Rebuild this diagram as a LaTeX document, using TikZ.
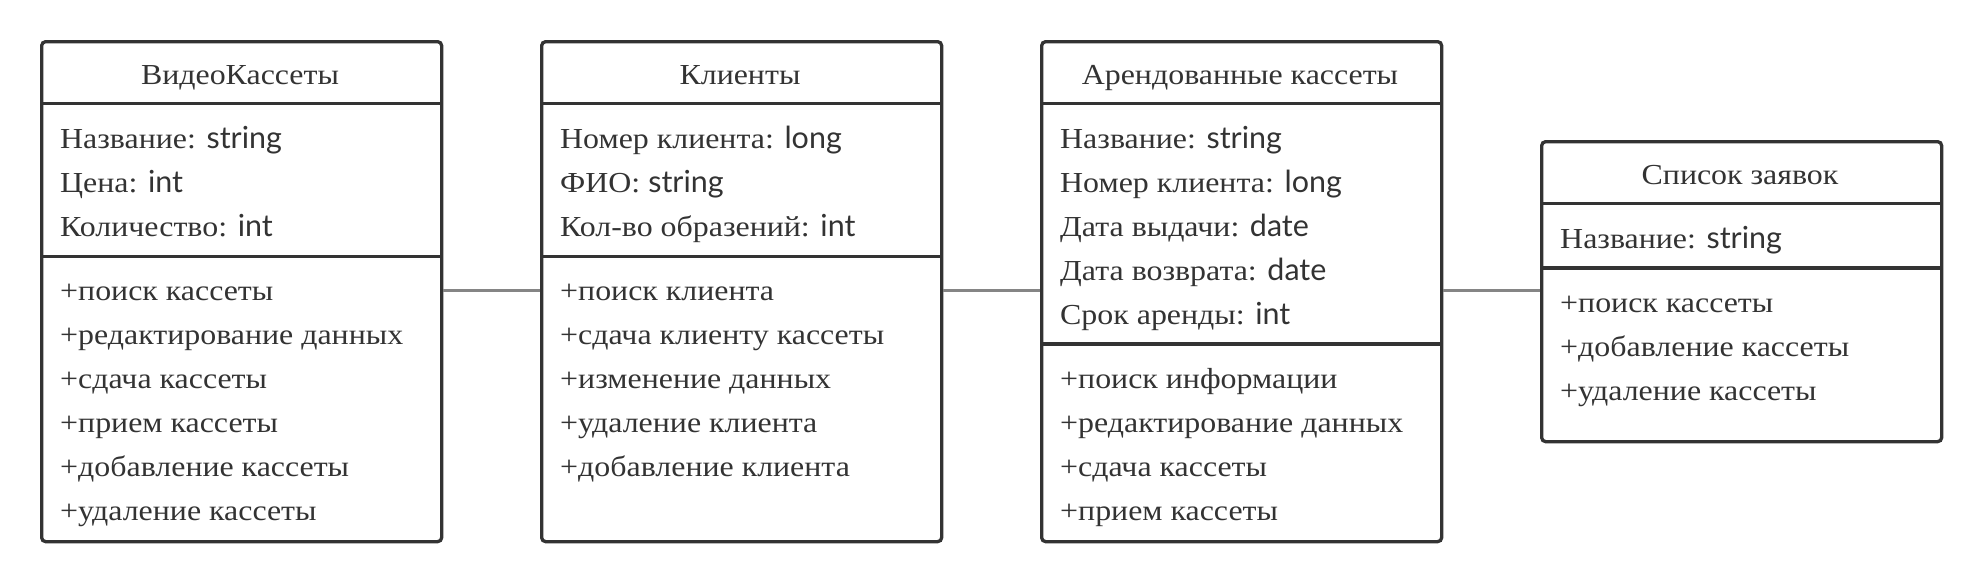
\documentclass[tikz,border=0pt]{standalone}
\usepackage{fontspec}
\setmainfont[FakeStretch=1.1]{Liberation Serif}
\newfontfamily\tf[Scale=1.05]{Lato}
\definecolor{ink}{HTML}{333333}
\definecolor{link}{HTML}{858585}
\begin{document}
\begin{tikzpicture}[x=1pt,y=-1pt,
  classbox/.style={draw=ink, line width=3.3pt, rounded corners=4pt, fill=white,
    minimum width=400pt, inner sep=0pt, anchor=north west},
  sepline/.style={draw=ink, line width=3.3pt},
  conn/.style={draw=link, line width=3pt},
  ttl/.style={text=ink, font=\fontsize{29}{44}\selectfont, anchor=base, inner sep=0pt},
  txt/.style={text=ink, font=\fontsize{29}{44}\selectfont, anchor=base west, inner sep=0pt}]
\useasboundingbox (0,0) rectangle (1981,581);
% boxes
\node[classbox, minimum height=500pt] (b1) at (40,40) {};
\node[classbox, minimum height=500pt] (b2) at (540,40) {};
\node[classbox, minimum height=500pt] (b3) at (1040,40) {};
\node[classbox, minimum height=300pt] (b4) at (1540,140) {};
% connectors
\draw[conn] (b1.east |- 0,290.5) -- (b2.west |- 0,290.5);
\draw[conn] (b2.east |- 0,290.5) -- (b3.west |- 0,290.5);
\draw[conn] (b3.east |- 0,290.5) -- (b4.west |- 0,290.5);
% separators
\draw[sepline] (b1.west |- 0,103.5) -- (b1.east |- 0,103.5);
\draw[sepline] (b1.west |- 0,256.5) -- (b1.east |- 0,256.5);
\draw[sepline] (b2.west |- 0,103.5) -- (b2.east |- 0,103.5);
\draw[sepline] (b2.west |- 0,256.5) -- (b2.east |- 0,256.5);
\draw[sepline] (b3.west |- 0,103.5) -- (b3.east |- 0,103.5);
\draw[sepline] (b3.west |- 0,344) -- (b3.east |- 0,344);
\draw[sepline] (b4.west |- 0,203.5) -- (b4.east |- 0,203.5);
\draw[sepline] (b4.west |- 0,268) -- (b4.east |- 0,268);
% box 1
\node[ttl] (t1) at (240,84) {ВидеоКассеты};
\node[txt] (a11) at (60,148) {Название: {\tf string}};
\node[txt] (a12) at (60,192) {Цена: {\tf int}};
\node[txt] (a13) at (60,236) {Количество: {\tf int}};
\node[txt] (m11) at (60,300) {+поиск кассеты};
\node[txt] (m12) at (60,344) {+редактирование данных};
\node[txt] (m13) at (60,388) {+сдача кассеты};
\node[txt] (m14) at (60,432) {+прием кассеты};
\node[txt] (m15) at (60,476) {+добавление кассеты};
\node[txt] (m16) at (60,520) {+удаление кассеты};
% box 2
\node[ttl] (t2) at (740,84) {Клиенты};
\node[txt] (a21) at (560,148) {Номер клиента: {\tf long}};
\node[txt] (a22) at (560,192) {ФИО: {\tf string}};
\node[txt] (a23) at (560,236) {Кол-во образений: {\tf int}};
\node[txt] (m21) at (560,300) {+поиск клиента};
\node[txt] (m22) at (560,344) {+сдача клиенту кассеты};
\node[txt] (m23) at (560,388) {+изменение данных};
\node[txt] (m24) at (560,432) {+удаление клиента};
\node[txt] (m25) at (560,476) {+добавление клиента};
% box 3
\node[ttl] (t3) at (1240,84) {Арендованные кассеты};
\node[txt] (a31) at (1060,148) {Название: {\tf string}};
\node[txt] (a32) at (1060,192) {Номер клиента: {\tf long}};
\node[txt] (a33) at (1060,236) {Дата выдачи: {\tf date}};
\node[txt] (a34) at (1060,280) {Дата возврата: {\tf date}};
\node[txt] (a35) at (1060,324) {Срок аренды: {\tf int}};
\node[txt] (m31) at (1060,388) {+поиск информации};
\node[txt] (m32) at (1060,432) {+редактирование данных};
\node[txt] (m33) at (1060,476) {+сдача кассеты};
\node[txt] (m34) at (1060,520) {+прием кассеты};
% box 4
\node[ttl] (t4) at (1740,184) {Список заявок};
\node[txt] (a41) at (1560,248) {Название: {\tf string}};
\node[txt] (m41) at (1560,312) {+поиск кассеты};
\node[txt] (m42) at (1560,356) {+добавление кассеты};
\node[txt] (m43) at (1560,400) {+удаление кассеты};
\end{tikzpicture}
\end{document}
